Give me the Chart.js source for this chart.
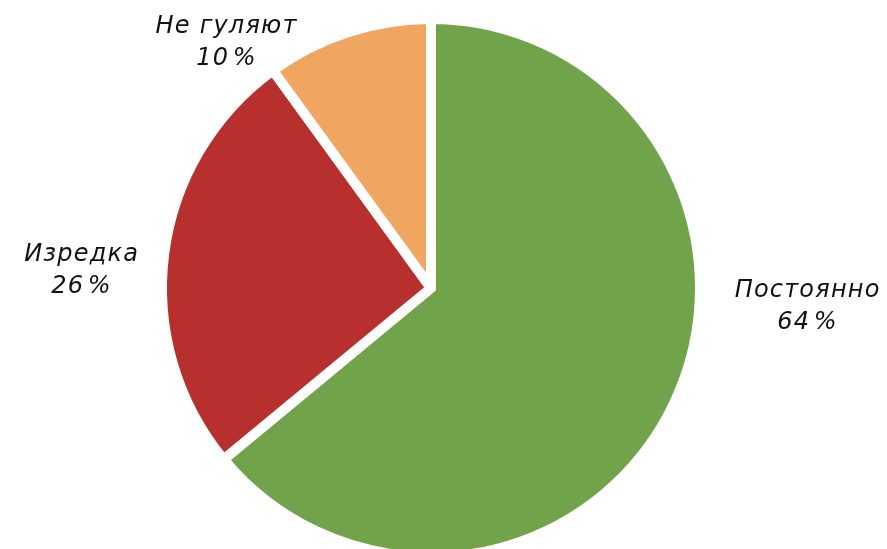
<!DOCTYPE html>
<html lang="ru">
<head>
    <meta charset="UTF-8">
    <title>Как часто гуляют</title>
    <style type="text/css">
        body { margin: 0; background: #fff; }
        .chartBox { width: 887px; height: 549px; }
    </style>
</head>
<body>

<div class="chartBox">
    <canvas id="myChart"></canvas>
</div>

<script src="https://cdn.jsdelivr.net/npm/chart.js"></script>
<script>
    const categories = ['Постоянно', 'Изредка', 'Не гуляют'];
    const shares = [64, 26, 10];
    const sliceColors = ['#71A44A', '#B7302D', '#F0A561'];

    // where each label's first line sits, relative to the pie centre
    const labelAnchors = [[376, 9], [-350, -27], [-205, -255]];

    const sliceLabels = {
        id: 'sliceLabels',
        afterDatasetsDraw(chart, args, opts) {
            const ctx = chart.ctx;
            const arcs = chart.getDatasetMeta(0).data;
            ctx.save();
            ctx.font = opts.font;
            ctx.letterSpacing = opts.spacing + 'px';
            ctx.fillStyle = opts.color;
            ctx.textAlign = 'center';
            ctx.textBaseline = 'alphabetic';
            arcs.forEach((arc, i) => {
                const x = arc.x + opts.anchors[i][0] + opts.spacing / 2;
                const y = arc.y + opts.anchors[i][1];
                ctx.fillText(categories[i], x, y);
                ctx.fillText(shares[i] + '\u200A%', x, y + opts.lineHeight);
            });
            ctx.restore();
        }
    };

    const ctx = document.getElementById('myChart').getContext('2d');
    const myChart = new Chart(ctx, {
        type: 'pie',
        data: {
            labels: categories,
            datasets: [{
                data: shares,
                backgroundColor: sliceColors,
                borderColor: '#ffffff',
                borderWidth: 10,
                borderJoinStyle: ['miter', 'bevel', 'bevel'],
                radius: 269,
                clip: false
            }]
        },
        plugins: [sliceLabels],
        options: {
            responsive: true,
            maintainAspectRatio: false,
            animation: false,
            layout: { padding: { left: 0, right: 25, top: 27, bottom: 0 } },
            plugins: {
                legend: { display: false },
                tooltip: { enabled: false },
                sliceLabels: {
                    anchors: labelAnchors,
                    font: 'italic 24px "DejaVu Sans"',
                    spacing: 1.2,
                    color: '#111111',
                    lineHeight: 32
                }
            }
        }
    });
</script>

</body>
</html>
